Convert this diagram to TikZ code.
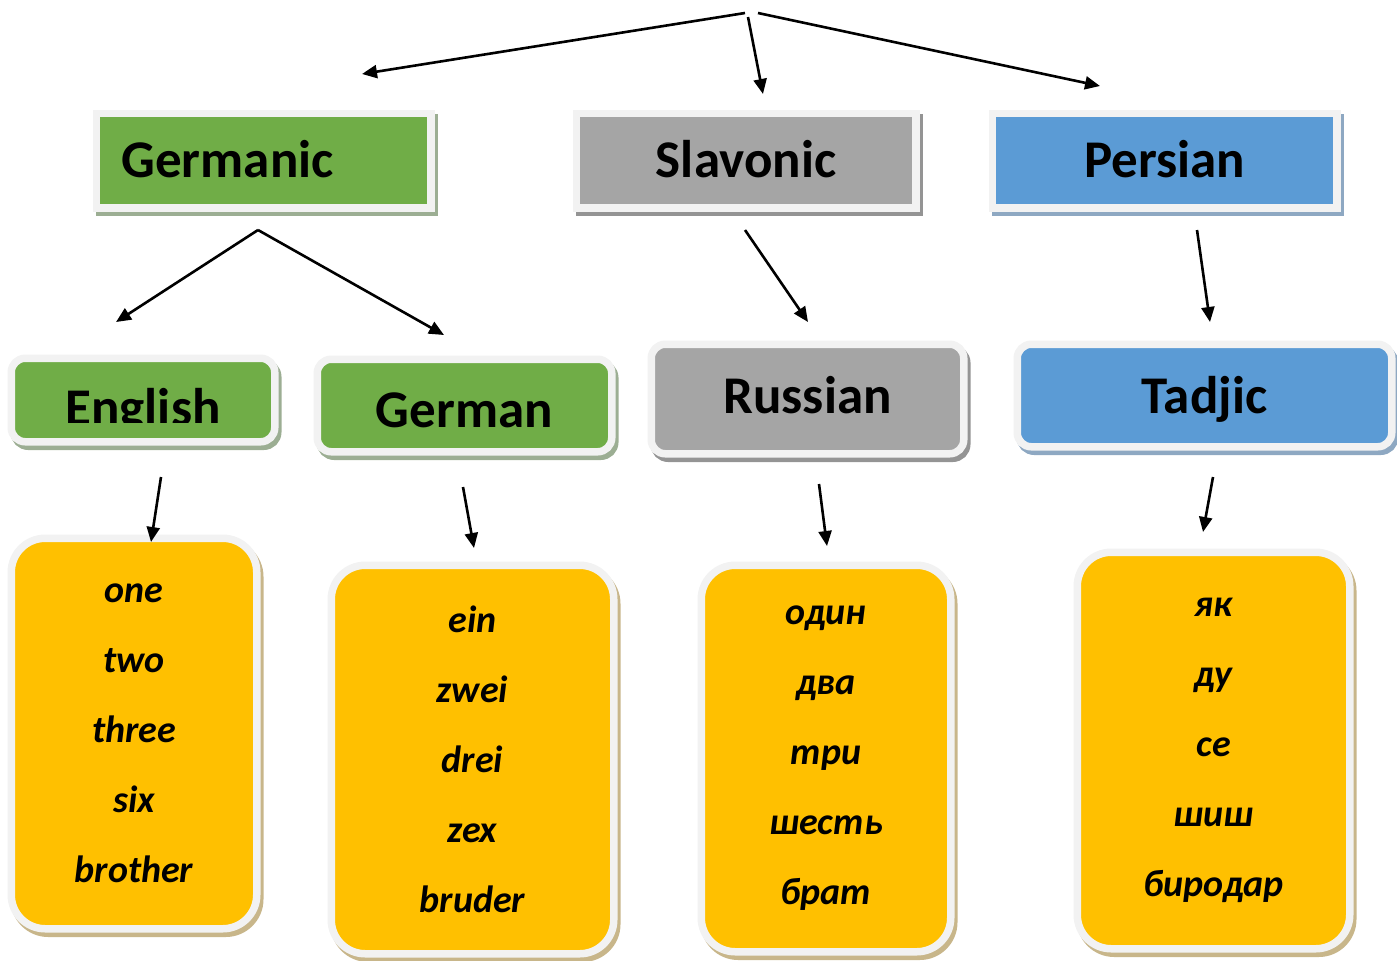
\documentclass[tikz,border=0pt]{standalone}
\usepackage{fontspec}
\setmainfont{Carlito}
\usetikzlibrary{arrows.meta}

\definecolor{grn}{HTML}{70AD47}
\definecolor{grnshade}{HTML}{9CAE93}
\definecolor{gry}{HTML}{A5A5A5}
\definecolor{gryshade}{HTML}{949494}
\definecolor{blu}{HTML}{5B9BD5}
\definecolor{blushade}{HTML}{8EA8C2}
\definecolor{ylw}{HTML}{FFC000}
\definecolor{ylwshade}{HTML}{C8B68A}
\definecolor{rim}{HTML}{F2F2F2}

\tikzset{
  card/.style 2 args={fill=#1, draw=rim, line width=3.75pt, inner sep=0pt,
    preaction={draw=#2, fill=#2, transform canvas={xshift=1.5pt,yshift=-2.25pt}}},
  branch/.style={font=\fontsize{26.5}{30}\selectfont\bfseries, text depth=0pt,
    text height=16.5pt, minimum height=47.25pt},
  language/.style={font=\fontsize{26.5}{30}\selectfont\bfseries, text depth=0pt,
    rounded corners=7pt},
  wordlist/.style={card={ylw}{ylwshade}, font=\fontsize{19}{35}\selectfont\bfseries\itshape,
    align=center, rounded corners=17pt},
  link/.style={->, line width=1.3pt},
}

\begin{document}
\begin{tikzpicture}[x=0.5pt,y=-0.5pt,>={Triangle[length=7.5pt,width=6.5pt]}]

    \useasboundingbox (0,0) rectangle (1397,960);

    % Language families
    \node [branch,card={grn}{grnshade},minimum width=167.25pt,text width=142pt,
        inner xsep=12.625pt,align=left] (germanic) at (263.5,160.5) {Germanic};
    \node [branch,card={gry}{gryshade},minimum width=169.75pt] (slavonic) at (746,160.5) {Slavonic};
    \node [branch,card={blu}{blushade},minimum width=172.25pt] (persian) at (1164.5,160.5) {Persian};

    % Languages
    \node [language,card={grn}{grnshade},minimum width=131.75pt,minimum height=41.75pt,
        text height=25pt] (english) at (143,400) {English};
    \fill [grn] (60,423) rectangle (235,437.5);
    \node [language,card={grn}{grnshade},minimum width=147.25pt,minimum height=46.25pt,
        text height=21.5pt] (german) at (464.5,405.5) {German};
    \node [language,card={gry}{gryshade},minimum width=156.25pt,minimum height=54.75pt,
        text height=14pt] (russian) at (807.5,399) {Russian};
    \node [language,card={blu}{blushade},minimum width=187.25pt,minimum height=51.25pt,
        text height=17.5pt] (tadjic) at (1204.5,395.5) {Tadjic};

    % Numerals
    \node [wordlist,minimum width=122.75pt,minimum height=195.25pt] (englishwords)
        at (134,733.5) {one\\two\\three\\six\\brother};
    \node [wordlist,minimum width=141.25pt,minimum height=194.25pt] (germanwords)
        at (472.5,759.5) {ein\\zwei\\drei\\zex\\bruder};
    \node [wordlist,minimum width=124.75pt,minimum height=193.25pt] (russianwords)
        at (826,758.5) {один\\два\\три\\шесть\\брат};
    \node [wordlist,minimum width=136.25pt,minimum height=198.25pt] (tadjicwords)
        at (1213.5,750.5) {як\\ду\\се\\шиш\\биродар};

    % Arrow ends
    \coordinate (rootleft) at (745,13);
    \coordinate (rootmid) at (748,17);
    \coordinate (rootright) at (758,13);
    \coordinate (germanicleft) at (362,74);
    \coordinate (slavonictop) at (763,94);
    \coordinate (persiantop) at (1100,86);
    \coordinate (germanicfork) at (258,230);
    \coordinate (englishtop) at (116,322);
    \coordinate (germantop) at (444,335);
    \coordinate (slavonicfoot) at (745,230);
    \coordinate (russiantop) at (808,322);
    \coordinate (persianfoot) at (1197,230);
    \coordinate (tadjictop) at (1210,322);
    \coordinate (englishfoot) at (161,477);
    \coordinate (englishwordstop) at (151,542);
    \coordinate (germanfoot) at (463,487);
    \coordinate (germanwordstop) at (474,548);
    \coordinate (russianfoot) at (819,484);
    \coordinate (russianwordstop) at (827,546);
    \coordinate (tadjicfoot) at (1213,477);
    \coordinate (tadjicwordstop) at (1203,532);

    % Arrows
    \draw [link] (rootleft) -- (germanicleft);
    \draw [link] (rootmid) -- (slavonictop);
    \draw [link] (rootright) -- (persiantop);
    \draw [link] (germanicfork) -- (englishtop);
    \draw [link] (germanicfork) -- (germantop);
    \draw [link] (slavonicfoot) -- (russiantop);
    \draw [link] (persianfoot) -- (tadjictop);
    \draw [link] (englishfoot) -- (englishwordstop);
    \draw [link] (germanfoot) -- (germanwordstop);
    \draw [link] (russianfoot) -- (russianwordstop);
    \draw [link] (tadjicfoot) -- (tadjicwordstop);

\end{tikzpicture}
\end{document}
